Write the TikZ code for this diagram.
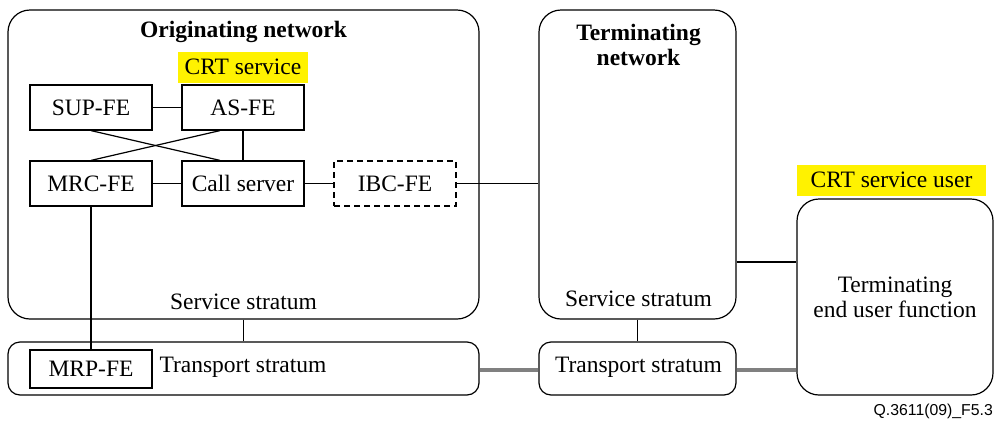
\documentclass[tikz,border=0pt]{standalone}
\usepackage{fontspec}
\setmainfont{Liberation Serif}
\newfontfamily\footfont{Liberation Sans}
\definecolor{hl}{RGB}{255,242,0}
\definecolor{thickgray}{RGB}{128,128,128}
\begin{document}
\begin{tikzpicture}[x=1pt,y=-1pt,
  every node/.style={font=\fontsize{23.5}{25}\selectfont, inner sep=0pt, align=center},
  bigbox/.style={draw, line width=1.2pt, rectangle, rounded corners=#1},
  febox/.style={draw, line width=1.2pt, rectangle, minimum width=122pt, minimum height=45pt},
  conn/.style={line width=1.2pt},
  thickconn/.style={line width=4pt, thickgray},
  hlbox/.style={fill=hl, minimum height=31pt},
  title/.style={font=\fontsize{23.5}{25}\selectfont\bfseries}
]
\useasboundingbox (0,0) rectangle (996,421);
% big boxes
\node[bigbox=22pt, minimum width=471pt, minimum height=309pt] (orig) at (243.5,164.5) {};
\node[bigbox=12pt, minimum width=471pt, minimum height=53pt] (origT) at (243.5,368.5) {};
\node[bigbox=22pt, minimum width=197pt, minimum height=309pt] (term) at (637.5,164.5) {};
\node[bigbox=12pt, minimum width=197pt, minimum height=53pt] (termT) at (637.5,368.5) {};
\node[bigbox=22pt, minimum width=196pt, minimum height=196pt] (user) at (895,297) {Terminating\\end user function};
% titles
\node[title] (origtitle) at (243.5,32) {Originating network};
\node[title] (termtitle) at (638.5,45) {Terminating\\network};
\node[hlbox, minimum width=130pt] (crt) at (243,67) {CRT service};
\node[hlbox, minimum width=189pt] (crtuser) at (891.5,180) {CRT service user};
% FEs
\node[febox] (sup) at (91,107.5) {SUP-FE};
\node[febox] (as) at (243,107.5) {AS-FE};
\node[febox] (mrc) at (91,183.5) {MRC-FE};
\node[febox] (call) at (243,183.5) {Call server};
\node[febox, dashed, dash pattern=on 6pt off 4pt] (ibc) at (395,183.5) {IBC-FE};
\node[febox, minimum height=38pt] (mrp) at (91,369) {MRP-FE};
% labels
\node (origss) at (243.5,302) {Service stratum};
\node (termss) at (638.5,299) {Service stratum};
\node (origts) at (243,367) {Transport stratum};
\node (termts) at (638.5,367) {Transport stratum};
\node[font=\footfont\fontsize{15.8}{17}\selectfont, anchor=east] (foot) at (993,411) {Q.3611(09)\_F5.3};
% connectors
\coordinate (yuser) at (0,262);
\draw[conn] (sup) -- (as);
\draw[conn] (mrc) -- (call);
\draw[conn] (call) -- (ibc);
\draw[conn] (ibc.east) -- (ibc.east -| term.west);
\draw[conn] (sup.south) -- ([xshift=-23pt]call.north);
\draw[conn] ([xshift=-23pt]as.south) -- (mrc.north);
\draw[conn] (as.south) -- (call.north);
\draw[conn] (mrc.south) -- (mrp.north);
\draw[conn] (orig.south) -- (origT.north);
\draw[conn] (term.south) -- (termT.north);
\draw[conn] (yuser -| term.east) -- (yuser -| user.west);
\draw[thickconn] ([yshift=-1.5pt]origT.east) -- ([yshift=-1.5pt]termT.west);
\draw[thickconn] ([yshift=-1.5pt]termT.east) -- ([yshift=-1.5pt]termT.east -| user.west);
\end{tikzpicture}
\end{document}
